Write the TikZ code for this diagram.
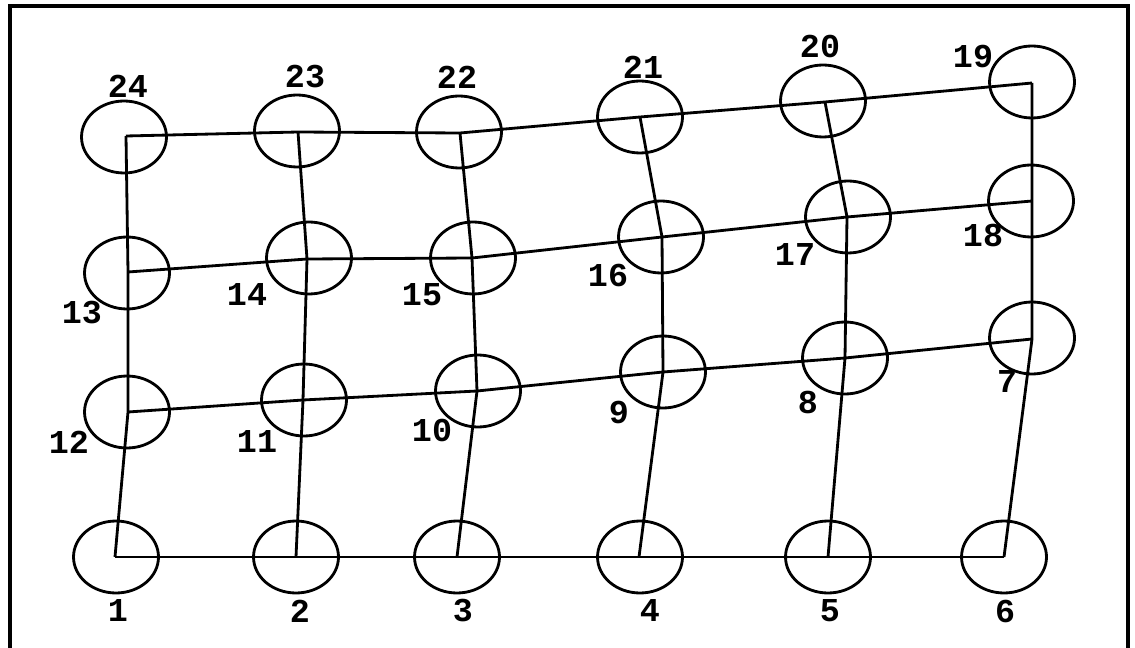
\documentclass[tikz,border=0pt]{standalone}
\usepackage{fontspec}
\setmonofont{Liberation Mono}
\usepackage{tikz}
\usetikzlibrary{shapes.geometric}

\begin{document}
\begin{tikzpicture}[
    x=0.02cm,
    y=-0.02cm,
    ring/.style={
        draw=black,
        ellipse,
        line width=1.6pt,
        inner sep=0pt,
        minimum width=1.7cm,
        minimum height=1.44cm
    },
    num/.style={
        font=\ttfamily\bfseries\fontsize{19}{19}\selectfont,
        inner sep=0pt
    },
    bar/.style={line width=1.6pt, line join=miter}
]
\useasboundingbox (0,0) rectangle (1135,648);

% frame, open at the bottom
\draw[line width=2pt] (10,648) -- (10,6) -- (1128,6) -- (1128,648);

% bottom row
\node[ring] (n1) at (116,557) {};
\node[ring] (n2) at (296,557) {};
\node[ring] (n3) at (457,557) {};
\node[ring] (n4) at (640,557) {};
\node[ring] (n5) at (828,557) {};
\node[ring] (n6) at (1004,557) {};

% second row
\node[ring] (n12) at (127,412) {};
\node[ring] (n11) at (304,400) {};
\node[ring] (n10) at (478,391) {};
\node[ring] (n9) at (663,372) {};
\node[ring] (n8) at (845,358) {};
\node[ring] (n7) at (1032,338) {};

% third row
\node[ring] (n13) at (127,273) {};
\node[ring] (n14) at (309,258) {};
\node[ring] (n15) at (473,258) {};
\node[ring] (n16) at (661,237) {};
\node[ring] (n17) at (848,217) {};
\node[ring] (n18) at (1031,201) {};

% top row
\node[ring] (n24) at (124,137) {};
\node[ring] (n23) at (297,131) {};
\node[ring] (n22) at (459,132) {};
\node[ring] (n21) at (640,117) {};
\node[ring] (n20) at (823,101) {};
\node[ring] (n19) at (1032,82) {};

% junction points of the mesh
\coordinate (j1) at (115,557);
\coordinate (j2) at (296,557);
\coordinate (j3) at (457,557);
\coordinate (j4) at (639,557);
\coordinate (j5) at (828,557);
\coordinate (j6) at (1004,557);
\coordinate (j12) at (128,412);
\coordinate (j11) at (303,400);
\coordinate (j10) at (477,391);
\coordinate (j9) at (663,372);
\coordinate (j8) at (845,358);
\coordinate (j7) at (1032,339);
\coordinate (j13) at (128,272);
\coordinate (j14) at (307,259);
\coordinate (j15) at (472,258);
\coordinate (j16) at (662,237);
\coordinate (j17) at (847,217);
\coordinate (j18) at (1032,201);
\coordinate (j24) at (126,136);
\coordinate (j23) at (298,132);
\coordinate (j22) at (460,133);
\coordinate (j21) at (640,117);
\coordinate (j20) at (825,102);
\coordinate (j19) at (1032,83);

% horizontal members
\draw[bar] (j1) -- (j2) -- (j3) -- (j4) -- (j5) -- (j6);
\draw[bar] (j12) -- (j11) -- (j10) -- (j9) -- (j8) -- (j7);
\draw[bar] (j13) -- (j14) -- (j15) -- (j16) -- (j17) -- (j18);
\draw[bar] (j24) -- (j23) -- (j22) -- (j21) -- (j20) -- (j19);

% vertical members
\draw[bar] (j1) -- (j12) -- (j13) -- (j24);
\draw[bar] (j2) -- (j11) -- (j14) -- (j23);
\draw[bar] (j3) -- (j10) -- (j15) -- (j22);
\draw[bar] (j4) -- (j9) -- (j16) -- (j21);
\draw[bar] (j5) -- (j8) -- (j17) -- (j20);
\draw[bar] (j6) -- (j7) -- (j18) -- (j19);

% numbers
\node[num] (t1) at (118,611) {1};
\node[num] (t2) at (300,611) {2};
\node[num] (t3) at (463,611) {3};
\node[num] (t4) at (650,611) {4};
\node[num] (t5) at (830,611) {5};
\node[num] (t6) at (1005,611) {6};
\node[num] (t7) at (1007,382) {7};
\node[num] (t8) at (808,402) {8};
\node[num] (t9) at (619,412) {9};
\node[num] (t10) at (432,430) {10};
\node[num] (t11) at (257,442) {11};
\node[num] (t12) at (69,442) {12};
\node[num] (t13) at (82,313) {13};
\node[num] (t14) at (247,295) {14};
\node[num] (t15) at (422,295) {15};
\node[num] (t16) at (608,275) {16};
\node[num] (t17) at (795,255) {17};
\node[num] (t18) at (983,235) {18};
\node[num] (t19) at (973,57) {19};
\node[num] (t20) at (820,47) {20};
\node[num] (t21) at (643,67) {21};
\node[num] (t22) at (457,77) {22};
\node[num] (t23) at (305,77) {23};
\node[num] (t24) at (128,86) {24};

\end{tikzpicture}
\end{document}
